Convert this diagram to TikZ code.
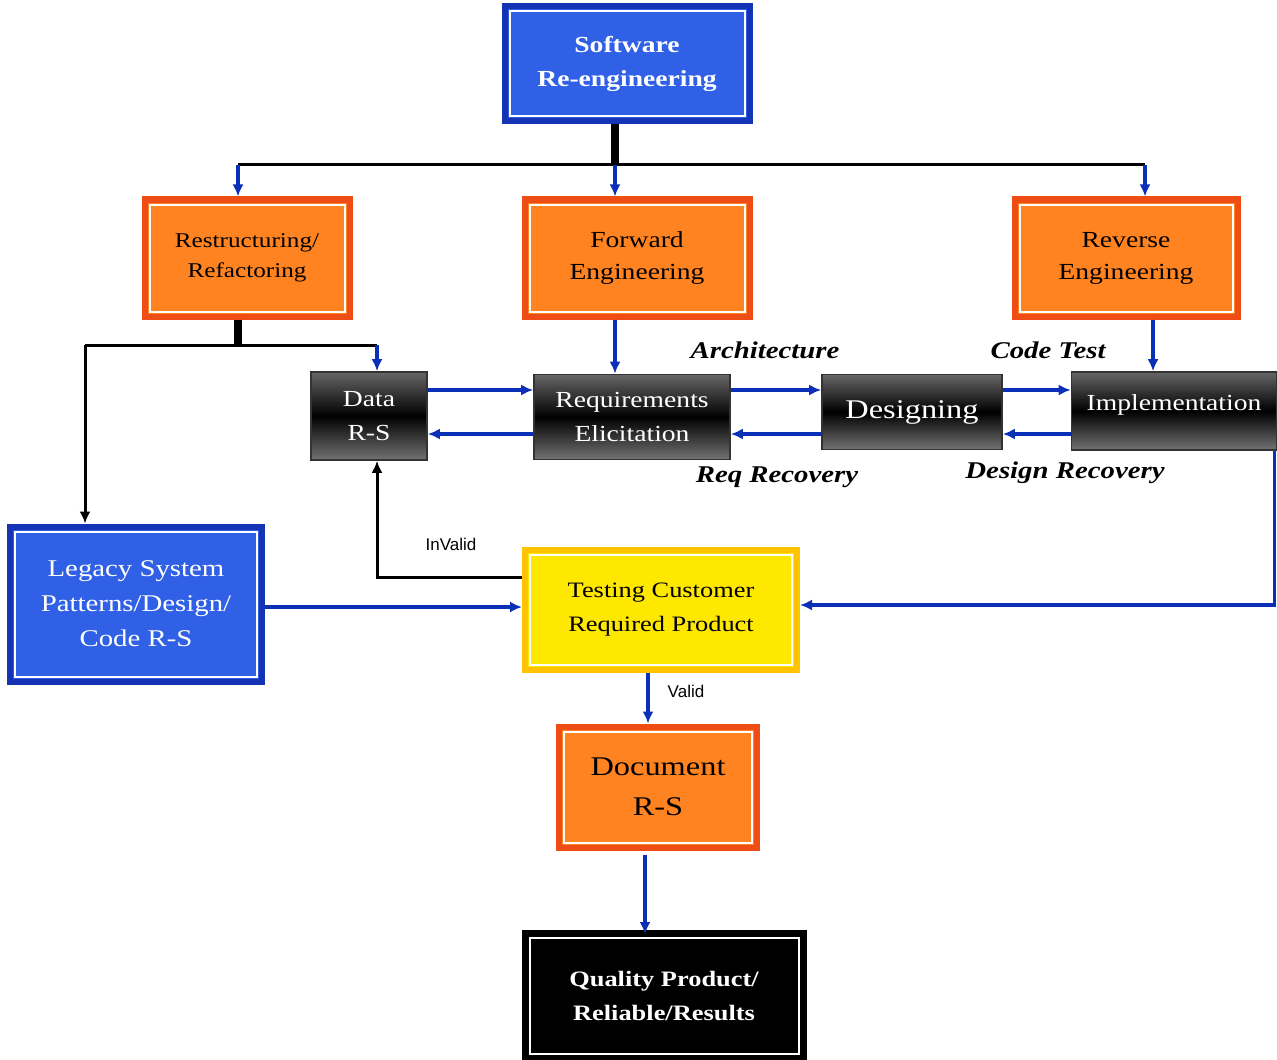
\documentclass[tikz,border=0pt]{standalone}
\usepackage{fontspec}
\setmainfont{Liberation Serif}[FakeStretch=1.2]
\newfontfamily\tagfont{Liberation Sans}
\usetikzlibrary{positioning,arrows.meta}

\definecolor{reblue}{HTML}{2F60E6}
\definecolor{reblueline}{HTML}{1534B5}
\definecolor{reorange}{HTML}{FF8320}
\definecolor{reorangeline}{HTML}{EE4E16}
\definecolor{reyellow}{HTML}{FFE800}
\definecolor{reyellowline}{HTML}{FFC300}
\definecolor{flowblue}{HTML}{0B30B8}

\tikzset{
  framed/.style={line width=3pt, inner sep=0pt, align=center,
    path picture={\draw[white, line width=1pt]
      ([shift={(2.5pt,-2.5pt)}]path picture bounding box.north west) rectangle
      ([shift={(-2.5pt,2.5pt)}]path picture bounding box.south east);}},
  bluebox/.style={framed, fill=reblue, draw=reblueline, text=white,
    font=\bfseries\fontsize{11.5}{17}\selectfont},
  orangebox/.style={framed, fill=reorange, draw=reorangeline, text=black,
    font=\fontsize{11.5}{16}\selectfont},
  yellowbox/.style={framed, fill=reyellow, draw=reyellowline, text=black,
    font=\fontsize{11}{17}\selectfont},
  blackbox/.style={draw=black!80, line width=0.8pt, inner sep=0pt, align=center,
    top color=black!60, bottom color=black!55, middle color=black,
    text=white, font=\fontsize{11.5}{17}\selectfont},
  endbox/.style={framed, fill=black, draw=black, text=white,
    font=\bfseries\fontsize{11}{17}\selectfont},
  flow/.style={draw=flowblue, line width=1.6pt, -{Latex[length=6pt,width=5.5pt]}},
  link/.style={draw=black, line width=1.5pt},
  stub/.style={draw=black, line width=4pt},
  phase/.style={font=\bfseries\itshape\fontsize{12}{14}\selectfont},
  tag/.style={font=\tagfont\fontsize{8.5}{10}\selectfont}
}

\begin{document}
\begin{tikzpicture}[x=0.5pt, y=-0.5pt]
\useasboundingbox (0,0) rectangle (1277,1059);

% boxes
\node[bluebox, minimum width=122.5pt, minimum height=57.5pt] (sre) at (627,64) {Software\\Re-engineering};

\node[orangebox, minimum width=102.5pt, minimum height=58.5pt, font=\fontsize{10.5}{15}\selectfont] (rr) at (247,258) {Restructuring/\\Refactoring};
\node[orangebox, minimum width=112.5pt, minimum height=58.5pt] (fe) at (637,258) {Forward\\Engineering};
\node[orangebox, minimum width=111.5pt, minimum height=58.5pt] (re) at (1126,258) {Reverse\\Engineering};

\node[blackbox, minimum width=58pt, minimum height=44pt] (data) at (369,416) {Data\\R-S};
\node[blackbox, minimum width=98pt, minimum height=42.5pt] (req) at (632,417) {Requirements\\Elicitation};
\node[blackbox, minimum width=90pt, minimum height=37.5pt, font=\fontsize{13.5}{17}\selectfont] (des) at (912,412) {Designing};
\node[blackbox, minimum width=102.5pt, minimum height=39pt, text depth=8pt] (impl) at (1174,411) {Implementation};

\node[bluebox, minimum width=126pt, minimum height=77.5pt, font=\fontsize{12}{17.5}\selectfont] (legacy) at (136,604) {Legacy System\\Patterns/Design/\\Code R-S};
\node[yellowbox, minimum width=136pt, minimum height=60pt] (test) at (661,610) {Testing Customer\\Required Product};
\node[orangebox, minimum width=99pt, minimum height=60.5pt, font=\fontsize{13.5}{20}\selectfont] (doc) at (658,787) {Document\\R-S};
\node[endbox, minimum width=139.5pt, minimum height=63pt] (qual) at (664,996) {Quality Product/\\Reliable/Results};

% phase labels
\node[phase] (arch) at (765,350) {Architecture};
\node[phase] (ctest) at (1048,350) {Code Test};
\node[phase] (reqrec) at (777,477) {Req Recovery};
\node[phase] (desrec) at (1065,473) {Design Recovery};

% top split
\coordinate (split) at (615,165);
\draw[stub] (sre.south -| split) -- (split);
\draw[link] ([xshift=-4.5pt]rr.north |- split) -- ([xshift=9.5pt]re.north |- split);
\draw[flow] ([xshift=-4.5pt]rr.north |- split) -- ([xshift=-4.5pt]rr.north);
\draw[flow] (split) -- (split |- fe.north);
\draw[flow] ([xshift=9.5pt]re.north |- split) -- ([xshift=9.5pt]re.north);

% restructuring split
\coordinate (rsplit) at (238,345);
\draw[stub] (rsplit |- rr.south) -- (rsplit);
\coordinate (lx) at (85,345);
\draw[link] (lx) -- ([xshift=4pt]data.north |- rsplit);
\draw[link, -{Latex[length=6pt,width=5.5pt]}] (lx) -- (lx |- legacy.north);
\draw[flow] ([xshift=4pt]data.north |- rsplit) -- ([xshift=4pt]data.north);

% forward / reverse into the chain
\draw[flow] (fe.south -| split) -- (req.north -| split);
\draw[flow] ([xshift=13.5pt]re.south) -- ([xshift=13.5pt]re.south |- impl.north);

% chain
\draw[flow] ([yshift=13pt]data.east) -- ([yshift=13pt]data.east -| req.west);
\draw[flow] ([yshift=-8.5pt]req.west) -- ([yshift=-8.5pt]req.west -| data.east);
\draw[flow] ([yshift=13.5pt]req.east) -- ([yshift=13.5pt]req.east -| des.west);
\draw[flow] ([yshift=-11pt]des.west) -- ([yshift=-11pt]des.west -| req.east);
\draw[flow] ([yshift=11pt]des.east) -- ([yshift=11pt]des.east -| impl.west);
\draw[flow] ([yshift=-11.5pt]impl.west) -- ([yshift=-11.5pt]impl.west -| des.east);

% testing loop
\draw[flow] ([xshift=-1.5pt]impl.south east) |- ([yshift=2.5pt]test.east);
\draw[flow] ([yshift=-1.5pt]legacy.east) -- ([yshift=-1.5pt]legacy.east -| test.west);
\draw[link, -{Latex[length=6pt,width=5.5pt]}] ([yshift=16.5pt]test.west) -| ([xshift=4pt]data.south);
\node[tag] (invalid) at (451,544) {InValid};

\draw[flow] ([xshift=-6.5pt]test.south) -- ([xshift=-6.5pt]test.south |- doc.north);
\node[tag] (valid) at (686,691) {Valid};

\draw[flow] ([xshift=-6.5pt,yshift=-2pt]doc.south) -- ([xshift=-6.5pt,yshift=-2pt]doc.south |- qual.north);

\end{tikzpicture}
\end{document}
